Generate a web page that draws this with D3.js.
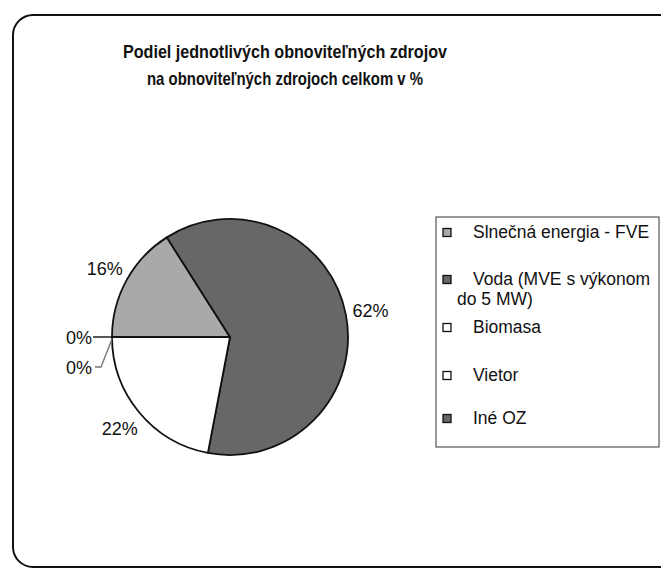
<!DOCTYPE html>
<html>
<head>
<meta charset="utf-8">
<script src="https://cdn.jsdelivr.net/npm/d3@7"></script>
<style>
  body { margin: 0; background: #fff; }
  text { font-family: "Liberation Sans", Arial, sans-serif; fill: #111; }
</style>
</head>
<body>
<svg id="chart" width="661" height="571"></svg>
<script>
// data
const categories = ['Slnečná energia - FVE', 'Voda (MVE s výkonom do 5 MW)', 'Biomasa', 'Vietor', 'Iné OZ'];
const shares = [16, 62, 22, 0, 0];
const sliceLabels = ['16%', '62%', '22%', '0%', '0%'];
const colors = ['#a9a9a9', '#676767', '#ffffff', '#ffffff', '#676767'];
const titleLines = ['Podiel jednotlivých obnoviteľných zdrojov', 'na obnoviteľných zdrojoch celkom v %'];
const titleWidths = [324, 276];

const svg = d3.select('#chart');

// outer frame (right side cut off)
svg.append('rect')
  .attr('x', 13).attr('y', 15)
  .attr('width', 700).attr('height', 552)
  .attr('rx', 20).attr('ry', 20)
  .attr('fill', 'none')
  .attr('stroke', '#111')
  .attr('stroke-width', 2);

svg.append('g').selectAll('text')
  .data(titleLines)
  .join('text')
  .attr('x', 285)
  .attr('y', (d, i) => 58 + i * 27)
  .attr('text-anchor', 'middle')
  .attr('font-size', 18.5)
  .attr('font-weight', 'bold')
  .attr('textLength', (d, i) => titleWidths[i])
  .attr('lengthAdjust', 'spacingAndGlyphs')
  .text(d => d);

const cx = 230, cy = 337, r = 118;
const g = svg.append('g').attr('transform', `translate(${cx},${cy})`);

const pie = d3.pie().sort(null).value(d => d).startAngle(-Math.PI / 2).endAngle(1.5 * Math.PI);
const arcs = pie(shares);
const arc = d3.arc().innerRadius(0).outerRadius(r);
const labelArc = d3.arc().innerRadius(143).outerRadius(143);
const edgeArc = d3.arc().innerRadius(r).outerRadius(r);

g.selectAll('path')
  .data(arcs)
  .join('path')
  .attr('d', arc)
  .attr('fill', (d, i) => colors[i])
  .attr('stroke', '#111')
  .attr('stroke-width', 1.8)
  .attr('stroke-linejoin', 'round');

// labels of the non-zero slices
g.selectAll('text.pct')
  .data(arcs.filter(d => d.value > 0))
  .join('text')
  .attr('class', 'pct')
  .attr('x', d => labelArc.centroid(d)[0])
  .attr('y', d => labelArc.centroid(d)[1] + 6.5)
  .attr('text-anchor', 'middle')
  .attr('font-size', 18)
  .text(d => sliceLabels[d.index]);

// zero slices: labels pulled out with leader lines
const zeros = arcs.filter(d => d.value === 0);
zeros.forEach((d, k) => {
  const p = edgeArc.centroid({ startAngle: d.startAngle, endAngle: d.endAngle });
  const ex = p[0] + 1, ey = p[1] + k * 2;
  const ly = k * 30;
  const pts = k === 0
    ? [[ex, ly], [-137, ly]]
    : [[ex - 1, ey], [-129, ly], [-135, ly]];
  g.append('path')
    .attr('d', d3.line()(pts))
    .attr('fill', 'none')
    .attr('stroke', k === 0 ? '#111' : '#777')
    .attr('stroke-width', 1.4);
  g.append('text')
    .attr('x', -138)
    .attr('y', ly + 6.5)
    .attr('text-anchor', 'end')
    .attr('font-size', 18)
    .text(sliceLabels[d.index]);
});

// legend
const lg = svg.append('g').attr('transform', 'translate(436,217)');
lg.append('rect')
  .attr('width', 223).attr('height', 230)
  .attr('fill', '#fff')
  .attr('stroke', '#333')
  .attr('stroke-width', 1);

const rowY = [21, 68, 116, 164, 207];
categories.forEach((c, i) => {
  const row = lg.append('g').attr('transform', `translate(0,${rowY[i]})`);
  row.append('rect')
    .attr('x', 7).attr('y', -9.5)
    .attr('width', 8).attr('height', 8)
    .attr('fill', colors[i])
    .attr('stroke', '#111')
    .attr('stroke-width', 1.3);
  if (i === 1) {
    row.append('text').attr('x', 37).attr('y', 0).attr('font-size', 17.5).text('Voda (MVE s výkonom');
    row.append('text').attr('x', 21).attr('y', 20).attr('font-size', 17.5).text('do 5 MW)');
  } else {
    row.append('text').attr('x', 37).attr('y', 0).attr('font-size', 17.5).text(c);
  }
});
</script>
</body>
</html>
